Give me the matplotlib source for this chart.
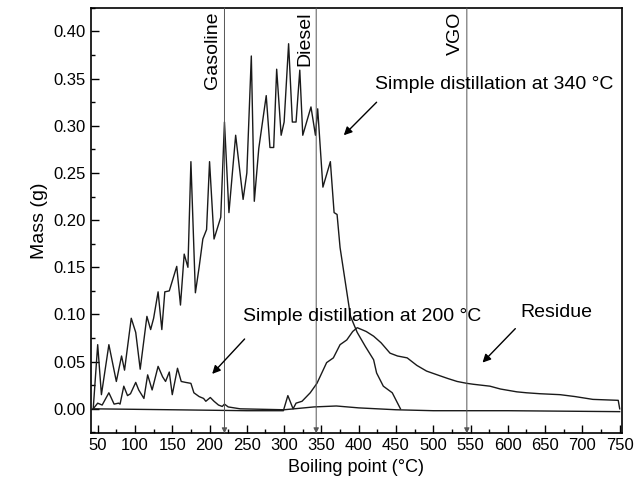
import numpy as np
import matplotlib
matplotlib.use("Agg")
import matplotlib.pyplot as plt
from matplotlib.ticker import MultipleLocator, FormatStrFormatter

plt.rcParams['font.family'] = ['Liberation Sans', 'DejaVu Sans']

# ── data ────────────────────────────────────────────────────────────────────
x340 = [44, 50, 55, 65, 75, 82, 86, 95, 101, 107, 116, 121, 125, 131, 136,
        140, 146, 156, 161, 166, 171, 175, 181, 186, 191, 196, 200, 206, 215,
        220, 226, 235, 245, 250, 256, 260, 266, 276, 281, 286, 290, 296, 300,
        306, 311, 316, 321, 325, 336, 342, 345, 352, 362, 367, 371, 375, 389,
        398, 409, 420, 424, 433, 445, 456]
y340 = [0.0, 0.068, 0.015, 0.068, 0.029, 0.056, 0.041, 0.096, 0.081, 0.042,
        0.098, 0.084, 0.096, 0.124, 0.084, 0.124, 0.125, 0.151, 0.11, 0.164,
        0.15, 0.262, 0.123, 0.15, 0.18, 0.19, 0.262, 0.18, 0.203, 0.304,
        0.208, 0.29, 0.222, 0.25, 0.374, 0.22, 0.276, 0.332, 0.277, 0.277,
        0.36, 0.29, 0.304, 0.387, 0.304, 0.304, 0.359, 0.29, 0.32, 0.29,
        0.318, 0.235, 0.262, 0.208, 0.206, 0.171, 0.098, 0.081, 0.066, 0.052,
        0.038, 0.024, 0.017, 0.0]

x200 = [44, 50, 56, 65, 72, 78, 80, 85, 90, 94, 101, 105, 112, 117, 123, 131,
        137, 141, 146, 150, 157, 162, 168, 175, 179, 186, 192, 195, 201, 206,
        212, 217, 220, 225, 241, 300, 340, 370, 400, 450, 500, 600, 750]
y200 = [0.0, 0.006, 0.004, 0.017, 0.005, 0.006, 0.005, 0.024, 0.014, 0.016,
        0.028, 0.02, 0.011, 0.036, 0.02, 0.045, 0.034, 0.029, 0.039, 0.015,
        0.043, 0.029, 0.028, 0.027, 0.017, 0.013, 0.011, 0.008, 0.012, 0.008,
        0.004, 0.0025, 0.005, 0.002, 0.0, -0.001, 0.002, 0.003, 0.001, -0.001,
        -0.002, -0.002, -0.003]

xres = [44, 150, 250, 299, 305, 308, 312, 316, 324, 335, 344, 357, 366, 375,
        384, 392, 398, 410, 420, 430, 442, 452, 465, 478, 491, 509, 520, 532,
        545, 554, 576, 590, 612, 625, 643, 670, 690, 714, 748, 750]
yres = [0.0, -0.001, -0.002, -0.002, 0.014, 0.008, 0.0, 0.006, 0.008, 0.017,
        0.027, 0.049, 0.054, 0.068, 0.073, 0.082, 0.086, 0.082, 0.077, 0.07,
        0.059, 0.056, 0.054, 0.046, 0.04, 0.035, 0.032, 0.029, 0.027, 0.026,
        0.024, 0.021, 0.018, 0.017, 0.016, 0.015, 0.013, 0.01, 0.009, 0.0]

cut_x = [220, 343, 545]
cut_names = ['Gasoline', 'Diesel', 'VGO']

fig = plt.figure(figsize=(6.34, 4.93), dpi=100)
ax = fig.add_axes([0.1435, 0.121, 0.8375, 0.863])

for xs, ys in [(x340, y340), (x200, y200), (xres, yres)]:
    ax.plot(xs, ys, color='#1a1a1a', lw=1.0)

ylo, yhi = -0.026, 0.425
for cx, name in zip(cut_x, cut_names):
    ax.annotate('', xy=(cx, ylo), xytext=(cx, yhi),
                arrowprops=dict(arrowstyle='-|>', color='#555555', lw=0.7,
                                mutation_scale=8, shrinkA=0, shrinkB=0))
    ax.text(cx - 4, 0.421, name, rotation=90, ha='right', va='top',
            fontsize=14)

arrow = dict(arrowstyle='-|>', color='black', lw=1.0, mutation_scale=12,
             shrinkA=0, shrinkB=0)
ax.annotate('', xy=(380, 0.29), xytext=(424, 0.325), arrowprops=arrow)
ax.text(422, 0.344, 'Simple distillation at 340 °C', fontsize=14,
        va='center', ha='left')
ax.annotate('', xy=(203.5, 0.037), xytext=(247, 0.074), arrowprops=arrow)
ax.text(245, 0.098, 'Simple distillation at 200 °C', fontsize=14,
        va='center', ha='left')
ax.annotate('', xy=(566, 0.049), xytext=(610, 0.085), arrowprops=arrow)
ax.text(617, 0.102, 'Residue', fontsize=14, va='center', ha='left')

ax.set_xlim(41, 753)
ax.set_ylim(ylo, yhi)
ax.xaxis.set_major_locator(MultipleLocator(50))
ax.xaxis.set_minor_locator(MultipleLocator(25))
ax.yaxis.set_major_locator(MultipleLocator(0.05))
ax.yaxis.set_minor_locator(MultipleLocator(0.025))
ax.yaxis.set_major_formatter(FormatStrFormatter('%.2f'))
ax.tick_params(which='both', direction='in', top=False, right=False,
               labelsize=12, width=1.0)
ax.tick_params(which='major', length=6)
ax.tick_params(which='minor', length=3)
for sp in ax.spines.values():
    sp.set_linewidth(1.2)

ax.set_xlabel('Boiling point (°C)', fontsize=13)
ax.set_ylabel('Mass (g)', fontsize=14)

fig.savefig('out.png', dpi=100)
